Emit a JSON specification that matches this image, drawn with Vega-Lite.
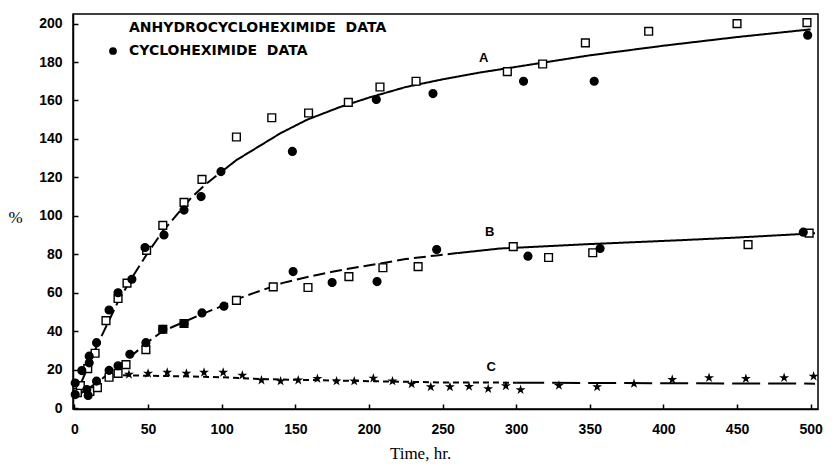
{
  "$schema": "https://vega.github.io/schema/vega-lite/v6.json",
  "width": 745,
  "height": 395,
  "autosize": {"type": "none"},
  "padding": {"left": 73, "top": 14, "right": 19, "bottom": 59},
  "background": "white",
  "config": {
    "view": {"stroke": "black", "strokeWidth": 1.5},
    "axis": {
      "grid": false,
      "domainColor": "black",
      "domainWidth": 1.5,
      "tickColor": "black",
      "tickWidth": 1.5,
      "tickSize": -5,
      "labelFont": "Liberation Sans",
      "labelFontWeight": "bold",
      "labelFontSize": 14,
      "labelColor": "black",
      "titleFont": "Liberation Serif",
      "titleFontWeight": "normal",
      "titleColor": "black"
    },
    "axisX": {"labelPadding": 18, "titleFontSize": 17, "titleX": 347, "titleY": 49, "titleAlign": "center", "titleBaseline": "alphabetic"},
    "axisY": {"labelPadding": 16, "titleFontSize": 17, "titleAngle": 0, "titleX": -58, "titleY": 203, "titleAlign": "center", "titleBaseline": "middle"}
  },
  "datasets": {
    "pts": [
      {"t": 2, "v": 8, "kind": "A"},
      {"t": 4, "v": 11.7, "kind": "A"},
      {"t": 9, "v": 20.5, "kind": "A"},
      {"t": 10.5, "v": 8.6, "kind": "A"},
      {"t": 14, "v": 28.5, "kind": "A"},
      {"t": 15.6, "v": 10.6, "kind": "A"},
      {"t": 21.4, "v": 45.5, "kind": "A"},
      {"t": 23.5, "v": 16, "kind": "A"},
      {"t": 29.6, "v": 57, "kind": "A"},
      {"t": 29.6, "v": 18, "kind": "A"},
      {"t": 35, "v": 22.6, "kind": "A"},
      {"t": 35.7, "v": 65, "kind": "A"},
      {"t": 48.5, "v": 30.4, "kind": "A"},
      {"t": 49, "v": 82, "kind": "A"},
      {"t": 60, "v": 95, "kind": "A"},
      {"t": 60, "v": 41, "kind": "A"},
      {"t": 74.4, "v": 107, "kind": "A"},
      {"t": 74.4, "v": 44, "kind": "A"},
      {"t": 86.6, "v": 119, "kind": "A"},
      {"t": 110, "v": 56, "kind": "A"},
      {"t": 110, "v": 141, "kind": "A"},
      {"t": 135, "v": 63, "kind": "A"},
      {"t": 134, "v": 151, "kind": "A"},
      {"t": 158.6, "v": 62.7, "kind": "A"},
      {"t": 159, "v": 153.5, "kind": "A"},
      {"t": 186, "v": 159, "kind": "A"},
      {"t": 186.4, "v": 68.4, "kind": "A"},
      {"t": 207.5, "v": 167, "kind": "A"},
      {"t": 209.5, "v": 73, "kind": "A"},
      {"t": 232, "v": 170, "kind": "A"},
      {"t": 233.4, "v": 73.6, "kind": "A"},
      {"t": 294, "v": 175, "kind": "A"},
      {"t": 298, "v": 84, "kind": "A"},
      {"t": 318, "v": 179, "kind": "A"},
      {"t": 322, "v": 78.3, "kind": "A"},
      {"t": 347, "v": 190, "kind": "A"},
      {"t": 352, "v": 80.8, "kind": "A"},
      {"t": 390, "v": 196, "kind": "A"},
      {"t": 450, "v": 200, "kind": "A"},
      {"t": 457.5, "v": 85, "kind": "A"},
      {"t": 497.5, "v": 200.5, "kind": "A"},
      {"t": 499, "v": 91, "kind": "A"},
      {"t": 0.5, "v": 13, "kind": "C"},
      {"t": 0.5, "v": 7, "kind": "C"},
      {"t": 5, "v": 19.5, "kind": "C"},
      {"t": 8.4, "v": 9.6, "kind": "C"},
      {"t": 9.3, "v": 6.5, "kind": "C"},
      {"t": 10, "v": 27, "kind": "C"},
      {"t": 10, "v": 23.5, "kind": "C"},
      {"t": 15, "v": 14, "kind": "C"},
      {"t": 15, "v": 34, "kind": "C"},
      {"t": 23.5, "v": 19.6, "kind": "C"},
      {"t": 23.5, "v": 51, "kind": "C"},
      {"t": 29.6, "v": 22, "kind": "C"},
      {"t": 29.6, "v": 60, "kind": "C"},
      {"t": 37.6, "v": 28, "kind": "C"},
      {"t": 39, "v": 67, "kind": "C"},
      {"t": 47.9, "v": 83.5, "kind": "C"},
      {"t": 48.5, "v": 34, "kind": "C"},
      {"t": 60, "v": 41, "kind": "C"},
      {"t": 60.8, "v": 90, "kind": "C"},
      {"t": 74.4, "v": 44, "kind": "C"},
      {"t": 74.4, "v": 103, "kind": "C"},
      {"t": 86.6, "v": 49.5, "kind": "C"},
      {"t": 86, "v": 110, "kind": "C"},
      {"t": 101.5, "v": 53, "kind": "C"},
      {"t": 99.5, "v": 123, "kind": "C"},
      {"t": 148, "v": 133.5, "kind": "C"},
      {"t": 148.5, "v": 71, "kind": "C"},
      {"t": 175, "v": 65.3, "kind": "C"},
      {"t": 205, "v": 160.5, "kind": "C"},
      {"t": 205.5, "v": 65.8, "kind": "C"},
      {"t": 243.5, "v": 163.6, "kind": "C"},
      {"t": 246, "v": 82.5, "kind": "C"},
      {"t": 305, "v": 170, "kind": "C"},
      {"t": 308, "v": 79, "kind": "C"},
      {"t": 353, "v": 170, "kind": "C"},
      {"t": 357, "v": 83, "kind": "C"},
      {"t": 495, "v": 91.5, "kind": "C"},
      {"t": 498, "v": 194, "kind": "C"}
    ],
    "stars": [
      {"t": 37, "v": 17.5}, {"t": 50, "v": 18}, {"t": 63, "v": 18.5}, {"t": 76, "v": 18},
      {"t": 88, "v": 18.5}, {"t": 101, "v": 18.5}, {"t": 114, "v": 17}, {"t": 127, "v": 14.5},
      {"t": 140, "v": 14}, {"t": 152, "v": 14.5}, {"t": 165, "v": 15.3}, {"t": 178, "v": 14},
      {"t": 190, "v": 14}, {"t": 203, "v": 15.5}, {"t": 216, "v": 14}, {"t": 229, "v": 12.5},
      {"t": 242, "v": 11}, {"t": 255, "v": 11}, {"t": 268, "v": 11.2}, {"t": 281, "v": 10},
      {"t": 293, "v": 11.5}, {"t": 303, "v": 9.5}, {"t": 329, "v": 11.7}, {"t": 355, "v": 11},
      {"t": 380, "v": 12.7}, {"t": 406, "v": 14.8}, {"t": 431, "v": 15.7}, {"t": 456, "v": 15.3},
      {"t": 482, "v": 15.7}, {"t": 502, "v": 16.5}
    ],
    "fits": [
      {"t": 0, "v": 5, "curve": "A", "seg": "dash"},
      {"t": 5, "v": 14, "curve": "A", "seg": "dash"},
      {"t": 10, "v": 23, "curve": "A", "seg": "dash"},
      {"t": 15, "v": 32, "curve": "A", "seg": "dash"},
      {"t": 20, "v": 40, "curve": "A", "seg": "dash"},
      {"t": 25, "v": 48, "curve": "A", "seg": "dash"},
      {"t": 30, "v": 56, "curve": "A", "seg": "dash"},
      {"t": 40, "v": 69, "curve": "A", "seg": "dash"},
      {"t": 50, "v": 81, "curve": "A", "seg": "dash"},
      {"t": 60, "v": 92, "curve": "A", "seg": "dash"},
      {"t": 70, "v": 101, "curve": "A", "seg": "dash"},
      {"t": 80, "v": 110, "curve": "A", "seg": "dash"},
      {"t": 90, "v": 117, "curve": "A", "seg": "dash"},
      {"t": 100, "v": 123, "curve": "A", "seg": "dash"},
      {"t": 100, "v": 123, "curve": "A", "seg": "solid"},
      {"t": 110, "v": 129, "curve": "A", "seg": "solid"},
      {"t": 125, "v": 136, "curve": "A", "seg": "solid"},
      {"t": 140, "v": 143, "curve": "A", "seg": "solid"},
      {"t": 158, "v": 150, "curve": "A", "seg": "solid"},
      {"t": 180, "v": 156.5, "curve": "A", "seg": "solid"},
      {"t": 200, "v": 161.5, "curve": "A", "seg": "solid"},
      {"t": 225, "v": 167, "curve": "A", "seg": "solid"},
      {"t": 250, "v": 171, "curve": "A", "seg": "solid"},
      {"t": 275, "v": 174.5, "curve": "A", "seg": "solid"},
      {"t": 300, "v": 177.5, "curve": "A", "seg": "solid"},
      {"t": 325, "v": 180.5, "curve": "A", "seg": "solid"},
      {"t": 350, "v": 183.5, "curve": "A", "seg": "solid"},
      {"t": 400, "v": 188.5, "curve": "A", "seg": "solid"},
      {"t": 450, "v": 193, "curve": "A", "seg": "solid"},
      {"t": 500, "v": 197, "curve": "A", "seg": "solid"},
      {"t": 0, "v": 5, "curve": "B", "seg": "dash"},
      {"t": 5, "v": 8, "curve": "B", "seg": "dash"},
      {"t": 10, "v": 10.5, "curve": "B", "seg": "dash"},
      {"t": 15, "v": 13, "curve": "B", "seg": "dash"},
      {"t": 20, "v": 16, "curve": "B", "seg": "dash"},
      {"t": 25, "v": 19, "curve": "B", "seg": "dash"},
      {"t": 30, "v": 22, "curve": "B", "seg": "dash"},
      {"t": 40, "v": 28, "curve": "B", "seg": "dash"},
      {"t": 50, "v": 34.5, "curve": "B", "seg": "dash"},
      {"t": 60, "v": 40, "curve": "B", "seg": "dash"},
      {"t": 75, "v": 45, "curve": "B", "seg": "dash"},
      {"t": 87, "v": 49, "curve": "B", "seg": "dash"},
      {"t": 100, "v": 53, "curve": "B", "seg": "dash"},
      {"t": 115, "v": 58, "curve": "B", "seg": "dash"},
      {"t": 130, "v": 62, "curve": "B", "seg": "dash"},
      {"t": 141, "v": 65, "curve": "B", "seg": "dash"},
      {"t": 160, "v": 68.5, "curve": "B", "seg": "dash"},
      {"t": 176, "v": 71, "curve": "B", "seg": "dash"},
      {"t": 190, "v": 73, "curve": "B", "seg": "dash"},
      {"t": 206, "v": 75, "curve": "B", "seg": "dash"},
      {"t": 225, "v": 77.5, "curve": "B", "seg": "dash"},
      {"t": 246, "v": 79.4, "curve": "B", "seg": "dash"},
      {"t": 260, "v": 80.6, "curve": "B", "seg": "dash"},
      {"t": 260, "v": 80.6, "curve": "B", "seg": "solid"},
      {"t": 289, "v": 83, "curve": "B", "seg": "solid"},
      {"t": 303, "v": 83.5, "curve": "B", "seg": "solid"},
      {"t": 350, "v": 85.3, "curve": "B", "seg": "solid"},
      {"t": 411, "v": 87.3, "curve": "B", "seg": "solid"},
      {"t": 450, "v": 88.7, "curve": "B", "seg": "solid"},
      {"t": 493, "v": 90.5, "curve": "B", "seg": "solid"},
      {"t": 503, "v": 91, "curve": "B", "seg": "solid"},
      {"t": 33, "v": 17, "curve": "C", "seg": "cdash"},
      {"t": 75, "v": 16.5, "curve": "C", "seg": "cdash"},
      {"t": 100, "v": 16, "curve": "C", "seg": "cdash"},
      {"t": 130, "v": 15, "curve": "C", "seg": "cdash"},
      {"t": 150, "v": 14.7, "curve": "C", "seg": "cdash"},
      {"t": 200, "v": 14, "curve": "C", "seg": "cdash"},
      {"t": 250, "v": 13.3, "curve": "C", "seg": "cdash"},
      {"t": 300, "v": 13.2, "curve": "C", "seg": "cdash"},
      {"t": 300, "v": 13.2, "curve": "C", "seg": "clong"},
      {"t": 400, "v": 12.9, "curve": "C", "seg": "clong"},
      {"t": 503, "v": 12.7, "curve": "C", "seg": "clong"}
    ],
    "labels": [
      {"t": 278, "v": 182, "txt": "A"},
      {"t": 282, "v": 91.5, "txt": "B"},
      {"t": 283, "v": 21.6, "txt": "C"}
    ]
  },
  "encoding": {
    "x": {"field": "t", "type": "quantitative", "title": "Time, hr.",
          "scale": {"domain": [-1, 505], "nice": false, "zero": false},
          "axis": {"values": [0, 50, 100, 150, 200, 250, 300, 350, 400, 450, 500]}},
    "y": {"field": "v", "type": "quantitative", "title": "%",
          "scale": {"domain": [-0.5, 205], "nice": false, "zero": false},
          "axis": {"values": [0, 20, 40, 60, 80, 100, 120, 140, 160, 180, 200]}}
  },
  "layer": [
    {
      "data": {"name": "fits"},
      "mark": {"type": "line", "color": "black", "strokeWidth": 2},
      "encoding": {
        "detail": {"field": "curve", "type": "nominal"},
        "strokeDash": {"field": "seg", "type": "nominal",
          "scale": {"domain": ["dash", "solid", "cdash", "clong"], "range": [[12, 5], [1, 0], [6, 4], [28, 8]]},
          "legend": null}
      }
    },
    {
      "data": {"name": "stars"},
      "mark": {"type": "point", "filled": true, "color": "black", "opacity": 1, "size": 110,
               "shape": "M0,-1L0.2245,-0.309L0.951,-0.309L0.363,0.118L0.588,0.809L0,0.382L-0.588,0.809L-0.363,0.118L-0.951,-0.309L-0.2245,-0.309Z"}
    },
    {
      "data": {"name": "pts"},
      "mark": {"type": "point", "stroke": "black", "strokeWidth": 1.4, "opacity": 1, "size": 60},
      "encoding": {
        "shape": {"field": "kind", "type": "nominal",
          "scale": {"domain": ["A", "C"], "range": ["square", "circle"]},
          "legend": {"orient": "none", "legendX": 33, "legendY": 7, "title": null,
                     "labelExpr": "datum.value == 'A' ? 'ANHYDROCYCLOHEXIMIDE\u00a0\u00a0DATA' : 'CYCLOHEXIMIDE\u00a0\u00a0DATA'",
                     "labelFont": "DejaVu Sans", "labelFontWeight": "bold", "labelFontSize": 14,
                     "labelLimit": 0, "labelColor": "black", "rowPadding": 9, "labelOffset": 9, "symbolSize": 60,
                     "symbolStrokeColor": "black", "symbolStrokeWidth": 1.4}},
        "fill": {"field": "kind", "type": "nominal",
          "scale": {"domain": ["A", "C"], "range": ["white", "black"]},
          "legend": {"orient": "none", "legendX": 33, "legendY": 7, "title": null,
                     "labelExpr": "datum.value == 'A' ? 'ANHYDROCYCLOHEXIMIDE\u00a0\u00a0DATA' : 'CYCLOHEXIMIDE\u00a0\u00a0DATA'",
                     "labelFont": "DejaVu Sans", "labelFontWeight": "bold", "labelFontSize": 14,
                     "labelLimit": 0, "labelColor": "black", "rowPadding": 9, "labelOffset": 9, "symbolSize": 60,
                     "symbolStrokeColor": "black", "symbolStrokeWidth": 1.4}}
      }
    },
    {
      "data": {"name": "labels"},
      "mark": {"type": "text", "font": "Liberation Sans", "fontWeight": "bold", "fontSize": 13, "color": "black"},
      "encoding": {"text": {"field": "txt", "type": "nominal"}}
    }
  ]
}
